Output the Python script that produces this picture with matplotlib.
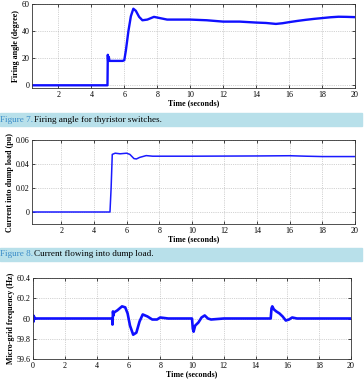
import numpy as np
import matplotlib
matplotlib.use('Agg')
import matplotlib.pyplot as plt
from matplotlib.patches import Rectangle

# firing angle (degree)
t_fire = [0.4, 4.98, 5.0, 5.02, 5.06, 5.1, 5.9, 6.0, 6.1, 6.25, 6.4, 6.55, 6.7, 6.9, 7.1, 7.4, 7.8, 8.2, 8.6, 9.0,
          10.0, 11.0, 12.0, 13.0, 14.0, 14.6, 15.2, 15.6, 16.0, 16.5, 17.0, 17.5, 18.0, 18.5, 19.0, 19.5, 20.0]
v_fire = [0, 0, 22.5, 18, 21, 18, 18, 18.5, 26, 40, 51, 56.5, 55, 50.5, 48, 48.5, 50.5, 49.5, 48.5, 48.5,
          48.5, 48, 47, 47, 46.3, 46, 45.3, 45.8, 46.6, 47.5, 48.3, 49, 49.6, 50.2, 50.6, 50.5, 50.3]

# current into dump load (pu)
t_dump = [0.2, 4.98, 5.05, 5.12, 5.3, 5.6, 6.0, 6.2, 6.45, 6.6, 6.8, 7.2, 7.6, 8.0, 10.0, 12.0, 14.0, 16.0, 17.0, 18.0, 20.0]
v_dump = [0, 0, 0.02, 0.048, 0.049, 0.0485, 0.049, 0.048, 0.0445, 0.0442, 0.0455, 0.047, 0.0465, 0.0465,
          0.0465, 0.0466, 0.0467, 0.0469, 0.0465, 0.0462, 0.0462]

# micro-grid frequency (Hz)
t_freq = [0.0, 0.02, 0.04, 0.06, 0.1, 4.98, 5.0, 5.03, 5.06, 5.1, 5.3, 5.6, 5.8, 5.95, 6.1, 6.3, 6.5, 6.7, 6.9, 7.2,
          7.5, 7.8, 8.0, 8.5, 9.0, 9.5, 10.0, 10.05, 10.1, 10.2, 10.4, 10.6, 10.8, 11.0, 11.2, 12.0, 13.0, 14.0,
          14.95, 15.0, 15.05, 15.15, 15.3, 15.5, 15.7, 15.9, 16.1, 16.3, 16.6, 17.0, 18.0, 19.0, 20.0]
v_freq = [60.0, 60.03, 59.97, 60.02, 60.0, 60.0, 59.94, 60.07, 60.03, 60.06, 60.08, 60.12, 60.11, 60.05, 59.93,
          59.84, 59.86, 59.97, 60.04, 60.02, 59.99, 59.99, 60.01, 60.0, 60.0, 60.0, 60.0, 59.9, 59.87, 59.93, 59.96,
          60.01, 60.03, 60.0, 59.99, 60.0, 60.0, 60.0, 60.0, 60.1, 60.12, 60.09, 60.07, 60.05, 60.02, 59.98, 59.99,
          60.01, 60.0, 60.0, 60.0, 60.0, 60.0]

plt.rcParams['font.family'] = ['Liberation Serif', 'DejaVu Serif']
plt.rcParams['font.size'] = 5.5

fig = plt.figure(figsize=(3.64, 3.82), dpi=100)
W, H = 364.0, 382.0


def make_axes(l, r, t, b):
    return fig.add_axes([l / W, (H - b) / H, (r - l) / W, (b - t) / H])


def style(ax, ylabel):
    ax.tick_params(direction='in', top=True, right=True, length=2.5, width=0.5, labelsize=5.8, pad=2)
    ax.grid(True, linestyle=':', color='#aaaaaa', linewidth=0.5)
    for s in ax.spines.values():
        s.set_linewidth(0.6)
        s.set_color('#333333')
    ax.set_xlabel('Time (seconds)', fontweight='bold', fontsize=5.8, labelpad=0.5)
    ax.set_ylabel(ylabel, fontweight='bold', fontsize=5.8, labelpad=1)


ax1 = make_axes(32, 355, 4, 88)
ax1.plot(t_fire, v_fire, color='#1010ff', linewidth=1.7)
ax1.set_xlim(0.4, 20)
ax1.set_ylim(-2, 60)
ax1.set_xticks(range(2, 21, 2))
ax1.set_yticks([0, 20, 40, 60])
style(ax1, 'Firing angle (degree)')

ax2 = make_axes(32, 355, 140, 224)
ax2.plot(t_dump, v_dump, color='#1a1aff', linewidth=1.1)
ax2.set_xlim(0.2, 20)
ax2.set_ylim(-0.01, 0.06)
ax2.set_xticks(range(2, 21, 2))
ax2.set_yticks([0, 0.02, 0.04, 0.06])
ax2.set_yticklabels(['0', '0.02', '0.04', '0.06'])
style(ax2, 'Current into dump load (pu)')

ax3 = make_axes(33, 351, 278, 359)
ax3.plot(t_freq, v_freq, color='#1010ff', linewidth=1.9)
ax3.set_xlim(0, 20)
ax3.set_ylim(59.6, 60.4)
ax3.set_xticks(range(0, 21, 2))
ax3.set_yticks([59.6, 59.8, 60, 60.2, 60.4])
ax3.set_yticklabels(['59.6', '59.8', '60', '60.2', '60.4'])
style(ax3, 'Micro-grid frequency (Hz)')

# caption bands
captions = [(113, 126, 'Figure 7.', 'Firing angle for thyristor switches.'),
            (248, 261, 'Figure 8.', 'Current flowing into dump load.')]
renderer = fig.canvas.get_renderer()
for top, bot, head, rest in captions:
    fig.add_artist(Rectangle((0, (H - bot) / H), 362 / W, (bot - top) / H,
                             transform=fig.transFigure, color='#b8e0ea', zorder=0))
    yc = (H - (top + bot) / 2) / H
    t1 = fig.text(0.5 / W, yc, head, color='#3a8cc8', fontsize=6.6, va='center', ha='left')
    bb = t1.get_window_extent(renderer)
    fig.text((bb.x1 + 1) / W, yc, rest, color='black', fontsize=6.6, va='center', ha='left')

fig.savefig('out.png', dpi=100)
